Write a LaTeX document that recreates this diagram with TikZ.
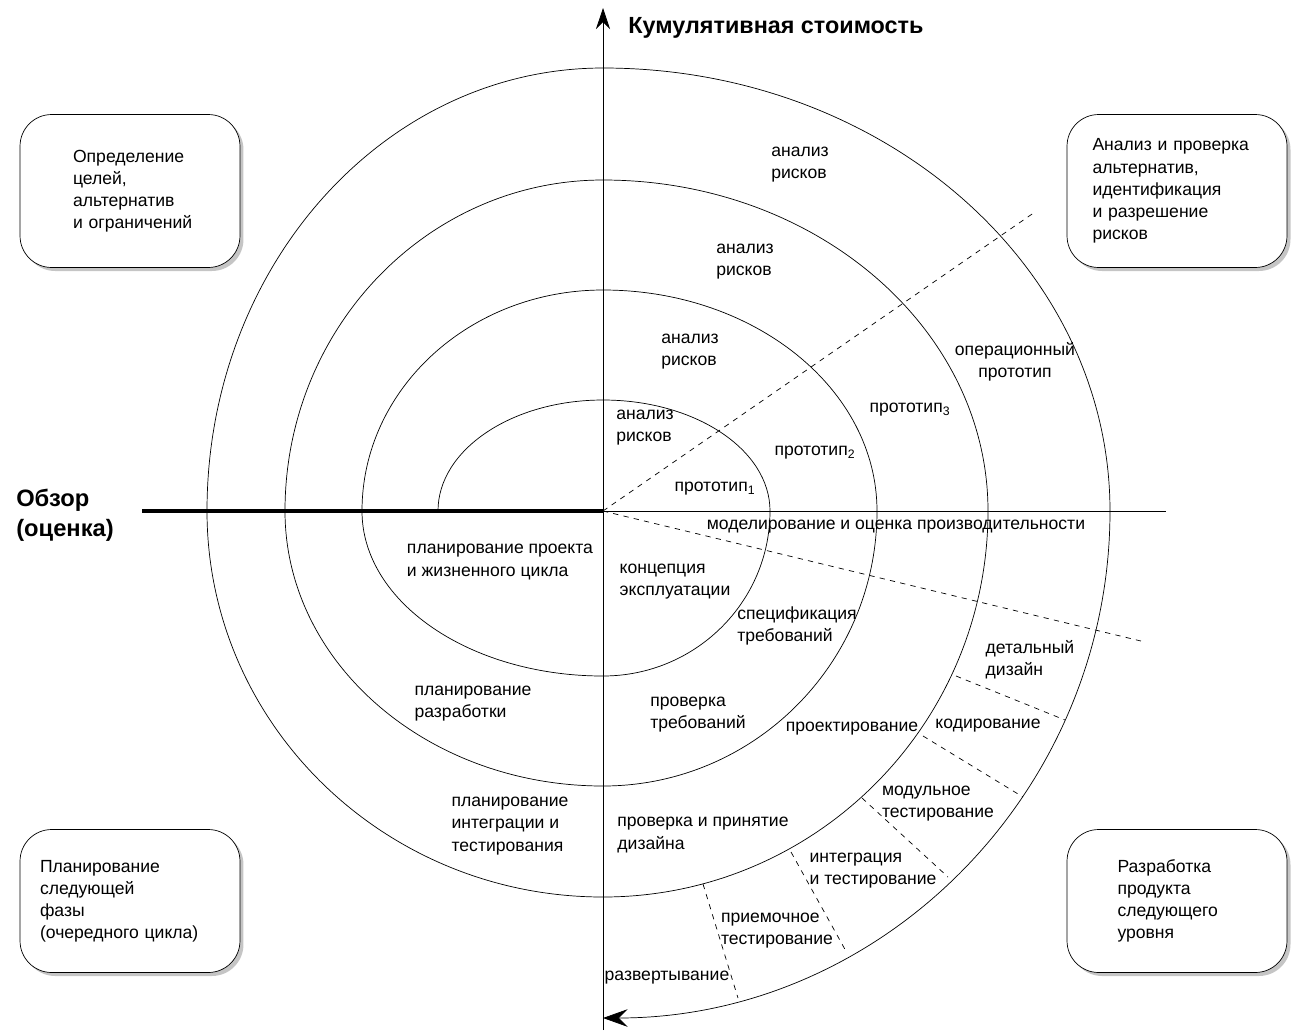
\documentclass[tikz,border=0pt]{standalone}
\usepackage{fontspec}
\setmainfont{Liberation Sans}
\usetikzlibrary{arrows.meta,shadows}

\begin{document}
\begin{tikzpicture}[x=0.02cm,y=-0.02cm,
		lbl/.style={align=left, inner sep=0pt, font=\fontsize{10}{12.6}\selectfont},
		box/.style={rectangle, rounded corners=18pt, draw=black, fill=white, minimum width=4.4cm,
			align=left, inner sep=0pt, font=\fontsize{10}{12.6}\selectfont,
			drop shadow={shadow xshift=2pt, shadow yshift=-2pt, fill=black!45}},
		cut/.style={dashed, thin}]
	\useasboundingbox (0,0) rectangle (1306,1032);

	% axes
	\coordinate (O) at (603,511);
	\coordinate (top) at (603,8);
	\coordinate (bot) at (603,1030);
	\coordinate (left) at (142,511);
	\coordinate (right) at (1166,511);
	\draw [-{Stealth[length=12pt,width=8pt]}] (bot) -- (top);
	\draw [line width=2pt] (left) -- (O);
	\draw (O) -- (right);

	% spiral
	\draw [-{Stealth[length=14pt,width=10pt,inset=5pt]}] (438,511)
		arc[start angle=180, end angle=270, x radius=165, y radius=111]
		arc[start angle=270, end angle=360, x radius=167, y radius=111]
		arc[start angle=0, end angle=90, x radius=167, y radius=165]
		arc[start angle=90, end angle=180, x radius=241, y radius=165]
		arc[start angle=180, end angle=270, x radius=241, y radius=221]
		arc[start angle=270, end angle=360, x radius=274, y radius=221]
		arc[start angle=0, end angle=90, x radius=274, y radius=275]
		arc[start angle=90, end angle=180, x radius=318, y radius=275]
		arc[start angle=180, end angle=270, x radius=318, y radius=331]
		arc[start angle=270, end angle=360, x radius=385, y radius=331]
		arc[start angle=0, end angle=90, x radius=385, y radius=386]
		arc[start angle=90, end angle=180, x radius=396, y radius=386]
		arc[start angle=180, end angle=270, x radius=396, y radius=443]
		arc[start angle=270, end angle=360, x radius=507, y radius=443]
		arc[start angle=0, end angle=90, x radius=507, y radius=507];

	% sector borders
	\coordinate (riskEnd) at (1035,212);
	\coordinate (devEnd) at (1145,642);
	\draw [cut] (O) -- (riskEnd);
	\draw [cut] (O) -- (devEnd);
	\draw [cut] (956,676) -- (1065,720);
	\draw [cut] (923,736) -- (1023,797);
	\draw [cut] (862,798) -- (948,877);
	\draw [cut] (791,852) -- (847,953);
	\draw [cut] (703,884) -- (738,998);

	% titles
	\node (cost) [font=\bfseries\fontsize{13.3}{16}\selectfont] at (776,28) {Кумулятивная стоимость};
	\node (review) [align=left, font=\bfseries\fontsize{13.5}{17}\selectfont] at (65,515) {Обзор\\(оценка)};

	% quadrant boxes
	\node (goals) [box, minimum height=3.06cm, text width=2.7cm] at (130,191) {\hspace*{6pt}\begin{minipage}{2.6cm}Определение\\целей,\\альтернатив\\и ограничений\end{minipage}};
	\node (risks) [box, minimum height=3.06cm, text width=3.38cm] at (1177,191) {Анализ и проверка\\альтернатив,\\идентификация\\и разрешение\\рисков};
	\node (plan) [box, minimum height=2.86cm, text width=3.6cm] at (130,901) {Планирование\\следующей\\фазы\\(очередного цикла)};
	\node (develop) [box, minimum height=2.86cm, text width=2.38cm] at (1177,901) {Разработка\\продукта\\следующего\\уровня};

	% spiral labels
	\node (risk4) [lbl] at (800,165) {анализ\\рисков};
	\node (risk3) [lbl] at (745,262) {анализ\\рисков};
	\node (risk2) [lbl] at (690,352) {анализ\\рисков};
	\node (risk1) [lbl] at (645,428) {анализ\\рисков};
	\node (proto1) [lbl] at (715,489) {прототип\textsubscript{1}};
	\node (proto2) [lbl] at (815,453) {прототип\textsubscript{2}};
	\node (proto3) [lbl] at (910,410) {прототип\textsubscript{3}};
	\node (protoOp) [lbl, align=center] at (1015,362) {операционный\\прототип};
	\node (model) [lbl] at (896,527) {моделирование и оценка производительности};
	\node (planLife) [lbl] at (500,562) {планирование проекта\\и жизненного цикла};
	\node (concept) [lbl] at (675,582) {концепция\\эксплуатации};
	\node (spec) [lbl] at (797,626) {спецификация\\требований};
	\node (detail) [lbl] at (1030,660) {детальный\\дизайн};
	\node (coding) [lbl] at (988,726) {кодирование};
	\node (design) [lbl] at (852,729) {проектирование};
	\node (reqCheck) [lbl] at (698,715) {проверка\\требований};
	\node (planDev) [lbl] at (473,704) {планирование\\разработки};
	\node (unitTest) [lbl] at (938,804) {модульное\\тестирование};
	\node (planInt) [lbl] at (510,826) {планирование\\интеграции и\\тестирования};
	\node (designOk) [lbl] at (703,835) {проверка и принятие\\дизайна};
	\node (intTest) [lbl] at (873,871) {интеграция\\и тестирование};
	\node (accTest) [lbl] at (777,931) {приемочное\\тестирование};
	\node (deploy) [lbl] at (667,978) {развертывание};
\end{tikzpicture}
\end{document}
